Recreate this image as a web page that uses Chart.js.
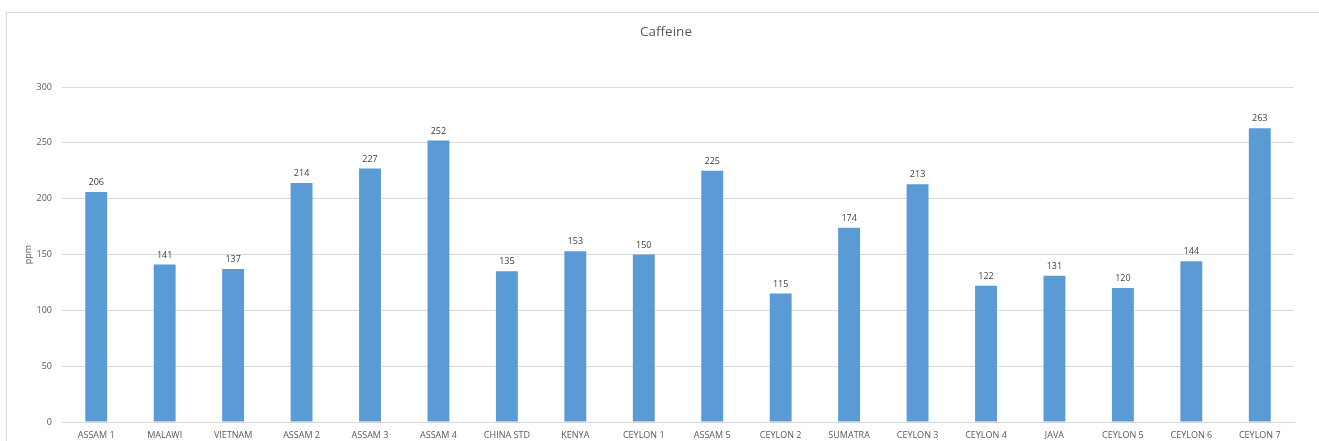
<!DOCTYPE html>
<html lang="en">
<head>
    <meta charset="UTF-8">
    <title>Caffeine</title>
    <script src="https://cdn.jsdelivr.net/npm/chart.js@4/dist/chart.umd.min.js"></script>
    <style>
        html, body { margin: 0; padding: 0; background: #fff; overflow: hidden; }
        #wrap { position: absolute; left: 6px; top: 12px; width: 1330px; height: 440px; border: 1px solid #d9d9d9; }
        #wrap canvas { display: block; }
    </style>
</head>
<body>
<div id="wrap"><canvas id="popChart" width="1312" height="428"></canvas></div>

<script>
    const teas = ['ASSAM 1', 'MALAWI', 'VIETNAM', 'ASSAM 2', 'ASSAM 3', 'ASSAM 4', 'CHINA STD', 'KENYA', 'CEYLON 1',
        'ASSAM 5', 'CEYLON 2', 'SUMATRA', 'CEYLON 3', 'CEYLON 4', 'JAVA', 'CEYLON 5', 'CEYLON 6', 'CEYLON 7'];
    const caffeine = [206, 141, 137, 214, 227, 252, 135, 153, 150, 225, 115, 174, 213, 122, 131, 120, 144, 263];
    const yTicks = [0, 50, 100, 150, 200, 250, 300];

    const font = '"Open Sans", "Liberation Sans", sans-serif';

    // title, axis title and the value above each bar
    const extras = {
        id: 'extras',
        afterDatasetsDraw(chart) {
            const {ctx, chartArea} = chart;
            ctx.save();
            ctx.fillStyle = '#595959';
            ctx.textAlign = 'center';
            ctx.textBaseline = 'middle';
            ctx.font = '13.5px ' + font;
            ctx.fillText('Caffeine', (chartArea.left + chartArea.right) / 2 - 12, 19);

            ctx.font = '9px ' + font;
            ctx.save();
            ctx.translate(21, (chartArea.top + chartArea.bottom) / 2);
            ctx.rotate(-Math.PI / 2);
            ctx.fillText('ppm', 0, 0);
            ctx.restore();

            ctx.fillStyle = '#404040';
            ctx.textBaseline = 'bottom';
            chart.getDatasetMeta(0).data.forEach((bar, i) => {
                ctx.fillText(caffeine[i], bar.x, bar.y - 5);
            });
            ctx.restore();
        }
    };

    new Chart(document.getElementById('popChart'), {
        type: 'bar',
        data: {
            labels: teas,
            datasets: [{
                label: 'ppm',
                data: caffeine,
                backgroundColor: '#5b9bd5',
                borderWidth: 0,
                barPercentage: 0.64,
                categoryPercentage: 0.5
            }]
        },
        options: {
            responsive: false,
            animation: false,
            layout: {padding: {top: 74, right: 25, left: 0, bottom: 0}},
            plugins: {
                legend: {display: false},
                title: {display: false},
                tooltip: {enabled: false}
            },
            scales: {
                x: {
                    grid: {display: false, drawTicks: false},
                    border: {color: '#d9d9d9'},
                    ticks: {color: '#595959', font: {size: 9, family: font}, maxRotation: 0, autoSkip: false, padding: 8},
                    afterFit(scale) { scale.height = 19; }
                },
                y: {
                    min: 0,
                    max: 300,
                    afterBuildTicks(scale) { scale.ticks = yTicks.map(v => ({value: v})); },
                    grid: {color: '#d9d9d9', drawTicks: false},
                    border: {display: false},
                    ticks: {color: '#595959', font: {size: 9, family: font}, padding: 10},
                    afterFit(scale) { scale.width = 55; }
                }
            }
        },
        plugins: [extras]
    });
</script>
</body>
</html>
